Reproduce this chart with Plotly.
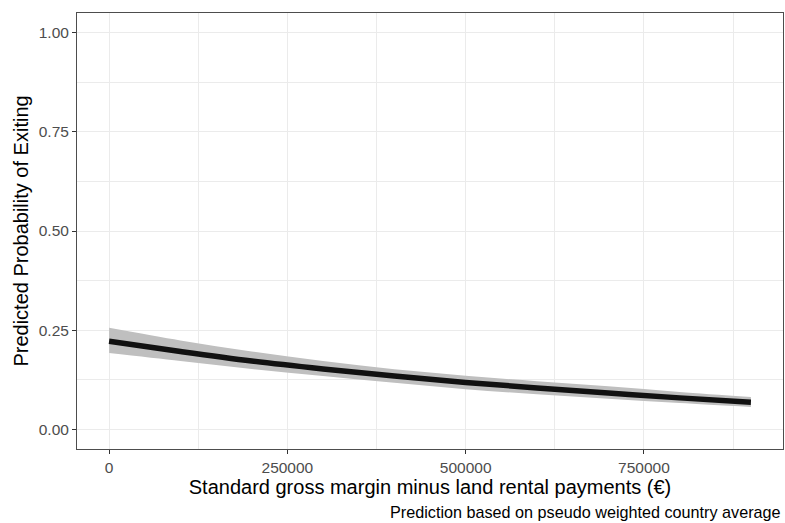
import plotly.graph_objects as go

x_vals = [0, 100000, 200000, 300000, 400000, 500000, 600000, 700000, 800000, 900000]
fit = [0.222, 0.196, 0.172, 0.152, 0.134, 0.118, 0.104, 0.091, 0.079, 0.068]
lower = [0.192, 0.172, 0.152, 0.134, 0.117, 0.101, 0.088, 0.077, 0.066, 0.056]
upper = [0.256, 0.224, 0.196, 0.172, 0.151, 0.135, 0.121, 0.108, 0.094, 0.081]

x_ticks = [0, 250000, 500000, 750000]
y_ticks = [0.0, 0.25, 0.5, 0.75, 1.0]

font = "Liberation Sans, Arial, sans-serif"

fig = go.Figure()
fig.add_trace(go.Scatter(x=x_vals, y=upper, mode="lines", line=dict(width=0, shape="spline"),
                         showlegend=False, hoverinfo="skip"))
fig.add_trace(go.Scatter(x=x_vals, y=lower, mode="lines", line=dict(width=0, shape="spline"),
                         fill="tonexty", fillcolor="#bfbfbf", showlegend=False, hoverinfo="skip"))
fig.add_trace(go.Scatter(x=x_vals, y=fit, mode="lines", line=dict(color="#111111", width=5.5, shape="spline"),
                         showlegend=False))

axis_common = dict(showgrid=True, gridcolor="#ebebeb", gridwidth=1,
                   showline=True, linecolor="#4d4d4d", linewidth=1, mirror=True,
                   ticks="outside", ticklen=4, tickcolor="#333333", tickwidth=1,
                   tickfont=dict(family=font, size=15.5, color="#4d4d4d"), zeroline=False)

fig.update_xaxes(range=[-45000, 945000], tickvals=x_ticks, ticktext=[str(v) for v in x_ticks],
                 minor=dict(tickvals=[125000, 375000, 625000, 875000], showgrid=True,
                            gridcolor="#ebebeb", gridwidth=0.6, ticks=""),
                 title=dict(text="Standard gross margin minus land rental payments (€)",
                            font=dict(family=font, size=20, color="#000000"), standoff=4),
                 **axis_common)
fig.update_yaxes(range=[-0.05, 1.05], tickvals=y_ticks, ticktext=["%.2f" % v for v in y_ticks],
                 minor=dict(tickvals=[0.125, 0.375, 0.625, 0.875], showgrid=True,
                            gridcolor="#ebebeb", gridwidth=0.6, ticks=""),
                 title=dict(text="Predicted Probability of Exiting",
                            font=dict(family=font, size=20, color="#000000"), standoff=4),
                 **axis_common)

fig.add_annotation(text="Prediction based on pseudo weighted country average",
                   xref="paper", yref="paper", x=1.0, y=-0.144, xanchor="right", yanchor="middle",
                   showarrow=False, font=dict(family=font, size=16.2, color="#000000"))

fig.update_layout(width=785, height=523, margin=dict(l=77, r=2, t=13, b=74),
                  plot_bgcolor="white", paper_bgcolor="white")

fig.write_html("out.html", config={"displayModeBar": False},
               post_script="document.body.style.margin='0';")
